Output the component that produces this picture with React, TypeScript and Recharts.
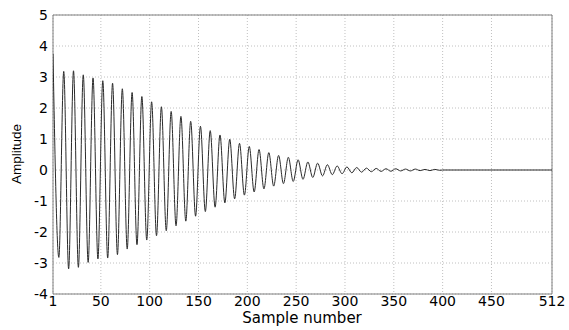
import { LineChart, Line, XAxis, YAxis, CartesianGrid, ReferenceArea, Label } from 'recharts';

// peaks and troughs of the decaying oscillation
const sampleNumber = [
  1, 7, 12, 17, 22, 27, 32, 37, 42, 47, 52, 57, 62, 67, 72, 77, 82, 87, 92, 97,
  102, 107, 112, 117, 122, 127, 132, 137, 142, 147, 152, 157, 162, 167, 172, 177, 182, 187, 192, 197,
  202, 207, 212, 217, 222, 227, 232, 237, 242, 247, 252, 257, 262, 267, 272, 277, 282, 287, 292, 297,
  302, 307, 312, 317, 322, 327, 332, 337, 342, 347, 352, 357, 362, 367, 372, 377, 382, 387, 392, 397,
  400, 512,
];
const amplitude = [
  3.75, -2.82, 3.18, -3.19, 3.2, -3.14, 3.07, -2.98, 2.97, -2.87, 2.88, -2.84, 2.8, -2.73, 2.62, -2.55, 2.5, -2.41, 2.37, -2.26,
  2.2, -2.12, 2.04, -1.96, 1.89, -1.8, 1.73, -1.65, 1.57, -1.49, 1.41, -1.34, 1.27, -1.2, 1.13, -1.06, 0.99, -0.93, 0.86, -0.81,
  0.76, -0.71, 0.66, -0.61, 0.56, -0.52, 0.47, -0.44, 0.41, -0.37, 0.33, -0.3, 0.26, -0.24, 0.22, -0.19, 0.17, -0.15, 0.13, -0.12,
  0.1, -0.09, 0.08, -0.07, 0.06, -0.055, 0.05, -0.045, 0.04, -0.04, 0.04, -0.03, 0.03, -0.03, 0.03, -0.02, 0.02, -0.02, 0.02, -0.01,
  0, 0,
];
const xTicks = [1, 50, 100, 150, 200, 250, 300, 350, 400, 450, 512];
const yTicks = [-4, -3, -2, -1, 0, 1, 2, 3, 4, 5];

const data = sampleNumber.map((s, i) => ({ s, v: amplitude[i] }));

const wide = 'DejaVu Sans, sans-serif';
const tickStyle = { fontSize: 14, fill: '#000', fontFamily: wide };

export default function App() {
  return (
    <div style={{ position: 'absolute', left: 0, top: 0, width: 569, height: 330, background: '#fff' }}>
      <LineChart width={569} height={330} data={data} margin={{ top: 15, right: 17, bottom: 0, left: 0 }}>
        <CartesianGrid stroke="#c0c0c0" strokeDasharray="1 2" horizontalValues={yTicks} verticalValues={xTicks} />
        <XAxis
          dataKey="s"
          type="number"
          domain={[1, 512]}
          ticks={xTicks}
          allowDataOverflow
          height={36}
          axisLine={false}
          tickLine={false}
          tickSize={0}
          tickMargin={2}
          tick={tickStyle}
        >
          <Label
            content={() => (
              <text x={302} y={323} textAnchor="middle" fontSize={15} fontFamily={wide} fill="#000">
                Sample number
              </text>
            )}
          />
        </XAxis>
        <YAxis
          type="number"
          domain={[-4, 5]}
          ticks={yTicks}
          allowDataOverflow
          width={53}
          axisLine={false}
          tickLine={false}
          tickSize={0}
          tickMargin={5}
          tick={tickStyle}
        >
          <Label
            content={() => (
              <text x={21} y={154} transform="rotate(-90 21 154)" textAnchor="middle" fontSize={13.5} fontFamily="Liberation Sans, Arial, sans-serif" fill="#000">
                Amplitude
              </text>
            )}
          />
        </YAxis>
        <ReferenceArea x1={1} x2={512} y1={-4} y2={5} fill="none" stroke="#808080" strokeWidth={1} />
        <Line type="monotone" dataKey="v" stroke="#2a2a2a" strokeWidth={1} dot={false} isAnimationActive={false} />
      </LineChart>
    </div>
  );
}
